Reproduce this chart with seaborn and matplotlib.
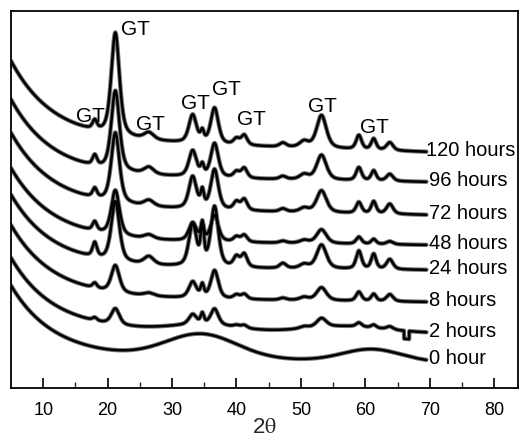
import numpy as np
import pandas as pd
import matplotlib
matplotlib.use("Agg")
import matplotlib.pyplot as plt
import seaborn as sns

sns.set_theme(style="white")
plt.rcParams["font.family"] = ["Liberation Sans", "DejaVu Sans"]
plt.rcParams["mathtext.fontset"] = "stix"

# Samples, bottom to top
samples = ["0 hour", "2 hours", "8 hours", "24 hours", "48 hours", "72 hours", "96 hours", "120 hours"]

# Goethite (GT) reflections: 2-theta positions and half widths (deg)
peak_pos = [18.0, 21.2, 26.4, 33.2, 34.7, 36.6, 40.0, 41.2, 47.2, 50.5, 53.2, 59.0, 61.3, 63.8]
peak_hw = [0.40, 0.75, 0.90, 0.70, 0.30, 0.70, 0.55, 0.55, 0.60, 0.80, 0.90, 0.50, 0.45, 0.60]

# Peak heights (a.u.) per sample, same order as peak_pos
h_0h = [0, 0, 0, 0, 0, 0, 0, 0, 0, 0, 0, 0, 0, 0]
h_2h = [3, 16, 0, 10, 10, 16, 2, 3, 0, 2, 9, 4, 3, 3]
h_8h = [5, 27, 3, 16, 12, 28, 4, 5, 2, 3, 13, 9, 7, 7]
h_24h = [14, 60, 8, 42, 38, 60, 10, 13, 5, 4, 24, 18, 15, 10]
h_48h = [9, 45, 4, 18, 16, 26, 5, 7, 2, 3, 14, 7, 5, 3]
h_72h = [9, 70, 6, 32, 16, 40, 8, 11, 3, 4, 22, 11, 12, 10]
h_96h = [10, 80, 7, 26, 10, 34, 6, 10, 3, 5, 25, 13, 10, 7]
h_120h = [9, 103, 7, 28, 10, 36, 6, 10, 4, 6, 33, 14, 11, 8]
heights = [h_0h, h_2h, h_8h, h_24h, h_48h, h_72h, h_96h, h_120h]

# Background of each pattern: stacked level, slow tilt, low-angle scattering
levels = [26, 55, 86, 118, 143, 173, 206, 236]
tilts = [4, 2, 3, 2, 3, 5, 4, 8]
low_angle_amp = [70, 72, 72, 72, 72, 74, 76, 78]
low_angle_decay = 6.5

# Broad amorphous humps (center, height, sigma) per sample
humps = {
    "0 hour": [(34.5, 24, 5.5), (61.0, 12, 4.5)],
    "2 hours": [(35.0, 6, 5.0), (57.0, 6, 6.0)],
}
# Instrument dropout in the 2 h scan (start, end, depth)
dropout_2h = (66.0, 66.8, 8)

two_theta = np.arange(5.0, 69.5, 0.02)


def pseudo_voigt(x, x0, h, w, eta=0.55):
    u = ((x - x0) / w) ** 2
    return h * (eta / (1 + u) + (1 - eta) * np.exp(-np.log(2) * u))


frames = []
for i, name in enumerate(samples):
    y = levels[i] + tilts[i] * (70 - two_theta) / 40
    y = y + low_angle_amp[i] * np.exp(-(two_theta - 5) / low_angle_decay)
    for c, hh, s in humps.get(name, []):
        y = y + hh * np.exp(-0.5 * ((two_theta - c) / s) ** 2)
    for p, w, hh in zip(peak_pos, peak_hw, heights[i]):
        if hh:
            y = y + pseudo_voigt(two_theta, p, hh, w)
    if name == "2 hours":
        a, b, d = dropout_2h
        y = np.where((two_theta >= a) & (two_theta <= b), y - d, y)
    frames.append(pd.DataFrame({"two_theta": two_theta, "intensity": y, "sample": name}))
df = pd.concat(frames, ignore_index=True)

fig = plt.figure(figsize=(5.19, 4.44), dpi=100)
ax = fig.add_axes([11 / 519, 56 / 444, 507 / 519, 377 / 444])

sns.lineplot(data=df, x="two_theta", y="intensity", hue="sample", units="sample",
             estimator=None, sort=False, palette=["#7a7a7a"] * len(samples),
             linewidth=3.2, legend=False, ax=ax)
sns.lineplot(data=df, x="two_theta", y="intensity", hue="sample", units="sample",
             estimator=None, sort=False, palette=["black"] * len(samples),
             linewidth=1.8, legend=False, ax=ax)

# Sample labels at the right end of each pattern
for i, name in enumerate(samples):
    end_val = df[df["sample"] == name]["intensity"].iloc[-1]
    ax.text(69.9 if name != "120 hours" else 69.4, end_val + 1, name,
            ha="left", va="center", fontsize=14.5, color="black")

# GT peak annotations
gt_x = [17.4, 24.3, 26.7, 33.6, 38.4, 42.3, 53.4, 61.4]
gt_y = [272, 359, 264, 285, 299, 269, 282, 261]
for gx, gy in zip(gt_x, gt_y):
    ax.text(gx, gy, "GT", ha="center", va="center", fontsize=15, color="black")

ax.set_xlim(5, 83.7)
ax.set_ylim(0, 377)
ax.set_xticks([10, 20, 30, 40, 50, 60, 70, 80])
ax.set_xticks([15, 25, 35, 45, 55, 65, 75], minor=True)
ax.set_yticks([])
ax.tick_params(axis="x", which="major", direction="in", length=7, width=1.2,
               labelsize=13, pad=10, bottom=True, colors="black")
ax.tick_params(axis="x", which="minor", direction="in", length=4, width=1.0, bottom=True)
for sp in ax.spines.values():
    sp.set_visible(True)
    sp.set_color("black")
    sp.set_linewidth(1.3)
ax.set_xlabel(r"2$\mathrm{\theta}$", fontsize=16, labelpad=-1.5)
ax.set_ylabel("")

fig.savefig("out.png", dpi=100)
